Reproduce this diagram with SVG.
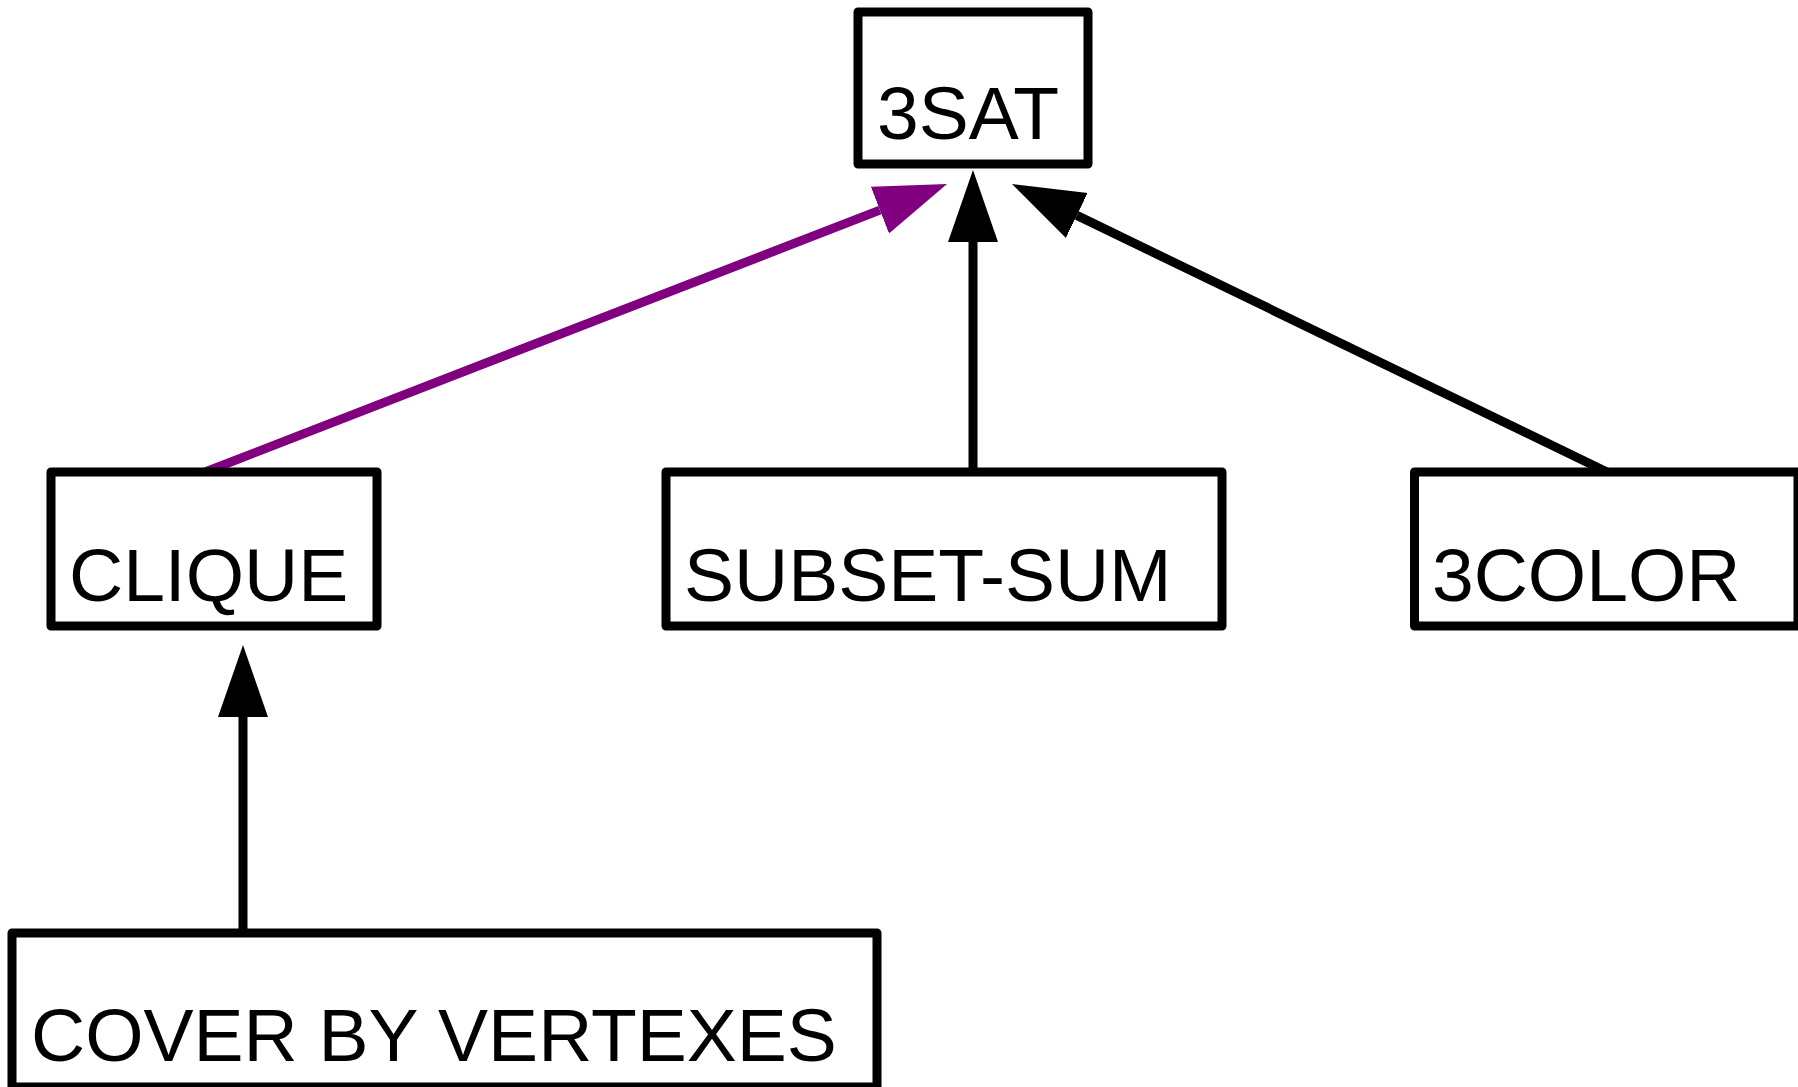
<svg xmlns="http://www.w3.org/2000/svg" width="1798" height="1087" viewBox="0 0 1798 1087">
  <style>
    .box { fill: #ffffff; stroke: #000000; stroke-width: 9; stroke-linejoin: round; }
    .label { font-family: "Liberation Sans", Arial, sans-serif; font-size: 75px; fill: #000000; }
    .edge { fill: none; stroke-width: 9; }
    .black { stroke: #000000; }
    .purple { stroke: #800080; }
  </style>
  <defs>
    <marker id="head-black" markerUnits="userSpaceOnUse" markerWidth="80" markerHeight="60" refX="0" refY="25" orient="auto" viewBox="0 0 80 50">
      <path d="M0,0 L72,25 L0,50 Z" fill="#000000"/>
    </marker>
    <marker id="head-purple" markerUnits="userSpaceOnUse" markerWidth="80" markerHeight="60" refX="0" refY="25" orient="auto" viewBox="0 0 80 50">
      <path d="M0,0 L72,25 L0,50 Z" fill="#800080"/>
    </marker>
  </defs>

  <rect width="1798" height="1087" fill="#ffffff"/>

  <g id="connectors">
    <line class="edge purple" x1="205" y1="472" x2="879.9" y2="210.1" marker-end="url(#head-purple)"/>
    <line class="edge black" x1="973" y1="472" x2="973" y2="242" marker-end="url(#head-black)"/>
    <line class="edge black" x1="1607" y1="472" x2="1076.8" y2="215.4" marker-end="url(#head-black)"/>
    <line class="edge black" x1="243" y1="933" x2="243" y2="717" marker-end="url(#head-black)"/>
  </g>

  <g id="node-3sat">
    <rect class="box" x="858" y="12" width="230" height="152"/>
    <text class="label" x="877" y="139">3SAT</text>
  </g>

  <g id="node-clique">
    <rect class="box" x="51" y="472" width="326" height="154"/>
    <text class="label" x="69" y="601">CLIQUE</text>
  </g>

  <g id="node-subset-sum">
    <rect class="box" x="666" y="472" width="556" height="154"/>
    <text class="label" x="684" y="601">SUBSET-SUM</text>
  </g>

  <g id="node-3color">
    <rect class="box" x="1414.5" y="472" width="383.5" height="154"/>
    <text class="label" x="1432" y="601">3COLOR</text>
  </g>

  <g id="node-cover">
    <rect class="box" x="12" y="933" width="865" height="154"/>
    <text class="label" x="31" y="1061">COVER BY VERTEXES</text>
  </g>
</svg>
